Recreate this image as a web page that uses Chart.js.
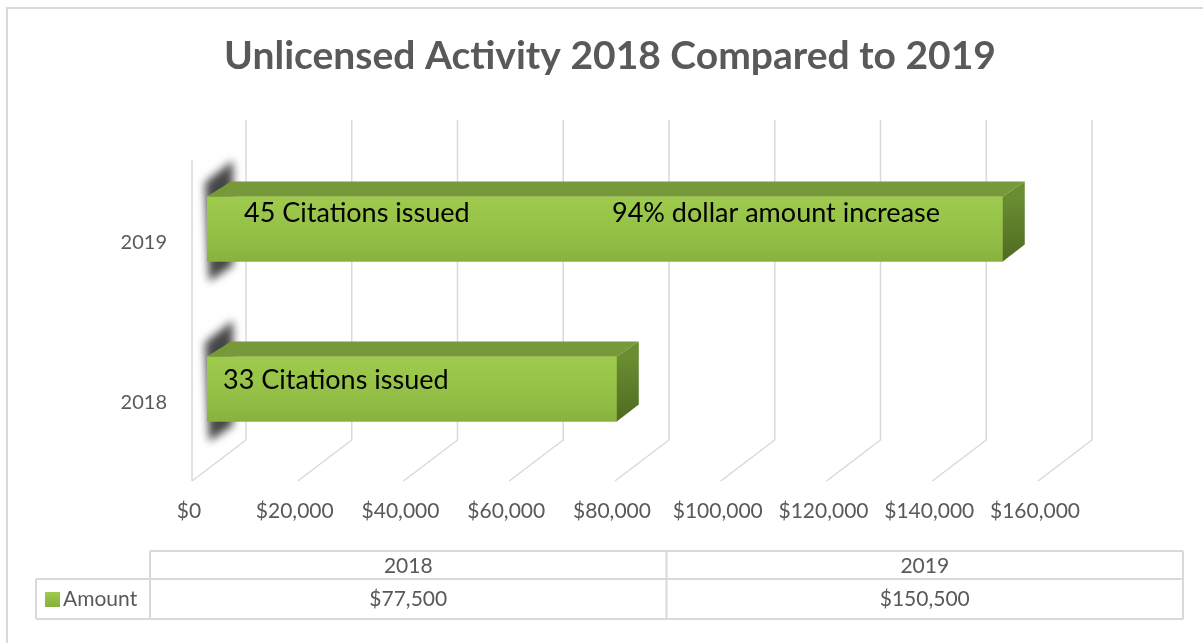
<!DOCTYPE html>
<html>
<head>
<meta charset="utf-8">
<script src="https://cdn.jsdelivr.net/npm/chart.js"></script>
<style>
  html, body { margin: 0; padding: 0; background: #fff; }
  #wrap { position: relative; width: 1203px; height: 643px; overflow: hidden; }
  #frame { position: absolute; left: 6px; top: 7px; width: 1300px; height: 800px; border: 2px solid #d9d9d9; box-sizing: border-box; }
  #chart { position: absolute; left: 0; top: 0; }
</style>
</head>
<body>
<div id="wrap">
  <div id="frame"></div>
  <canvas id="chart" width="1203" height="643"></canvas>
</div>
<script>
// data
const years = ['2018', '2019'];
const amounts = [77500, 150500];
const seriesName = 'Amount';
const xTicks = [0, 20000, 40000, 60000, 80000, 100000, 120000, 140000, 160000];
const barNotes = [
  ['33 Citations issued'],
  ['45 Citations issued', '94% dollar amount increase']
];
const chartTitle = 'Unlicensed Activity 2018 Compared to 2019';

const THEME = {
  text: '#595959',
  grid: '#d9d9d9',
  frontTop: '#9ecb4d',
  frontBottom: '#88b13d',
  topFace: '#77993a',
  sideTop: '#6a8d31',
  sideBottom: '#4f6b23'
};
const FONT = 'Lato, "Open Sans", sans-serif';
const DEPTH = { dx: 22, dy: -15 };

const money = v => '$' + Number(v).toLocaleString('en-US');

// title, drawn by hand so it can sit off the plot centre
const titlePlugin = {
  id: 'bigTitle',
  afterDraw(chart) {
    const { ctx } = chart;
    ctx.save();
    ctx.fillStyle = THEME.text;
    ctx.font = 'bold 39px ' + FONT;
    ctx.textAlign = 'center';
    ctx.textBaseline = 'middle';
    ctx.fillText(chartTitle, 610, 56);
    ctx.restore();
  }
};

// back wall, floor lines, wall shadows
const wallPlugin = {
  id: 'wall',
  beforeDatasetsDraw(chart) {
    const { ctx, chartArea } = chart;
    const x = chart.scales.x;
    ctx.save();
    ctx.strokeStyle = THEME.grid;
    ctx.lineWidth = 1.5;
    xTicks.forEach(v => {
      const px = x.getPixelForValue(v);
      ctx.beginPath();
      ctx.moveTo(px + 39, chartArea.top - 29);
      ctx.lineTo(px + 39, chartArea.bottom - 29);
      ctx.lineTo(px - 15, chartArea.bottom + 12);
      ctx.stroke();
    });
    ctx.beginPath();
    ctx.moveTo(x.left - 15, chartArea.top + 11);
    ctx.lineTo(x.left - 15, chartArea.bottom + 12);
    ctx.stroke();

    // blurred shadow of each bar on the side wall
    const meta = chart.getDatasetMeta(0);
    ctx.filter = 'blur(4px)';
    ctx.fillStyle = 'rgba(50,50,50,0.9)';
    meta.data.forEach(bar => {
      const top = bar.y - bar.height / 2;
      const bottom = bar.y + bar.height / 2;
      const b = bar.base;
      ctx.beginPath();
      ctx.moveTo(b - 2, top - 14);
      ctx.lineTo(b + 26, top - 36);
      ctx.lineTo(b + 26, bottom + 4);
      ctx.lineTo(b + 2, bottom + 20);
      ctx.closePath();
      ctx.fill();
    });
    ctx.restore();
  },
  afterDatasetsDraw(chart) {
    const { ctx } = chart;
    const meta = chart.getDatasetMeta(0);
    ctx.save();
    meta.data.forEach(bar => {
      const top = bar.y - bar.height / 2;
      const bottom = bar.y + bar.height / 2;
      const b = bar.base, e = bar.x;
      // top face
      ctx.fillStyle = THEME.topFace;
      ctx.beginPath();
      ctx.moveTo(b, top);
      ctx.lineTo(b + DEPTH.dx + 2, top + DEPTH.dy);
      ctx.lineTo(e + DEPTH.dx, top + DEPTH.dy);
      ctx.lineTo(e, top);
      ctx.closePath();
      ctx.fill();
      // right face
      const g = ctx.createLinearGradient(0, top, 0, bottom);
      g.addColorStop(0, THEME.sideTop);
      g.addColorStop(1, THEME.sideBottom);
      ctx.fillStyle = g;
      ctx.beginPath();
      ctx.moveTo(e, top);
      ctx.lineTo(e + DEPTH.dx, top + DEPTH.dy);
      ctx.lineTo(e + DEPTH.dx, bottom + DEPTH.dy - 2);
      ctx.lineTo(e, bottom);
      ctx.closePath();
      ctx.fill();
    });

    // notes written on the bars
    const noteX = [[16], [37, 405]];
    const noteY = [24, 17];
    ctx.fillStyle = '#000';
    ctx.font = '27px ' + FONT;
    ctx.textBaseline = 'middle';
    ctx.textAlign = 'left';
    meta.data.forEach((bar, i) => {
      const top = bar.y - bar.height / 2;
      barNotes[i].forEach((txt, j) => {
        ctx.fillText(txt, bar.base + noteX[i][j], top + noteY[i]);
      });
    });
    ctx.restore();
  }
};

// data table under the chart
const tablePlugin = {
  id: 'dataTable',
  afterDraw(chart) {
    const { ctx } = chart;
    const top = 551, mid = 579, bottom = 619;
    const left = 36, first = 150, right = 1183;
    const colW = (right - first) / years.length;
    ctx.save();
    ctx.strokeStyle = THEME.grid;
    ctx.lineWidth = 2;
    ctx.beginPath();
    ctx.moveTo(first, top); ctx.lineTo(right, top);
    ctx.moveTo(left, mid); ctx.lineTo(right, mid);
    ctx.moveTo(left, bottom); ctx.lineTo(right, bottom);
    ctx.moveTo(left, mid); ctx.lineTo(left, bottom);
    for (let i = 0; i <= years.length; i++) {
      const cx = first + i * colW;
      ctx.moveTo(cx, top); ctx.lineTo(cx, bottom);
    }
    ctx.stroke();

    ctx.fillStyle = THEME.text;
    ctx.font = '21px ' + FONT;
    ctx.textBaseline = 'middle';
    ctx.textAlign = 'center';
    years.forEach((y, i) => {
      const cx = first + (i + 0.5) * colW;
      ctx.fillText(y, cx, (top + mid) / 2 + 1);
      ctx.fillText(money(amounts[i]), cx, (mid + bottom) / 2);
    });

    // legend key
    const g = ctx.createLinearGradient(0, 592, 0, 606);
    g.addColorStop(0, THEME.frontTop);
    g.addColorStop(1, THEME.frontBottom);
    ctx.fillStyle = g;
    ctx.fillRect(45, 592, 15, 15);
    ctx.fillStyle = THEME.text;
    ctx.textAlign = 'left';
    ctx.fillText(seriesName, 63, (mid + bottom) / 2);
    ctx.restore();
  }
};

function frontFill(c) {
  const chart = c.chart;
  if (!chart.chartArea || c.dataIndex === undefined) return THEME.frontTop;
  const cy = chart.scales.y.getPixelForValue(c.dataIndex);
  const g = chart.ctx.createLinearGradient(0, cy - 32, 0, cy + 32);
  g.addColorStop(0, THEME.frontTop);
  g.addColorStop(0.75, '#91bc44');
  g.addColorStop(1, THEME.frontBottom);
  return g;
}

new Chart(document.getElementById('chart').getContext('2d'), {
  type: 'bar',
  data: {
    labels: years,
    datasets: [{
      label: seriesName,
      data: amounts,
      backgroundColor: frontFill,
      borderWidth: 0,
      barThickness: 65
    }]
  },
  options: {
    indexAxis: 'y',
    responsive: false,
    animation: false,
    layout: { padding: { left: 0, right: 150, top: 149, bottom: 114 } },
    plugins: {
      legend: { display: false },
      tooltip: { enabled: false },
      title: { display: false }
    },
    scales: {
      x: {
        min: 0,
        max: 160000,
        afterFit: s => { s.height = 60; },
        afterBuildTicks: s => { s.ticks = xTicks.map(v => ({ value: v })); },
        grid: { display: false, drawTicks: false },
        border: { display: false },
        ticks: {
          color: THEME.text,
          font: { family: FONT, size: 21 },
          padding: 30,
          labelOffset: -18,
          maxRotation: 0,
          autoSkip: false,
          callback: v => money(v)
        }
      },
      y: {
        reverse: true,
        afterFit: s => { s.width = 207; },
        grid: { display: false, drawTicks: false },
        border: { display: false },
        ticks: {
          color: THEME.text,
          font: { family: FONT, size: 20 },
          padding: 40,
          labelOffset: 14
        }
      }
    }
  },
  plugins: [wallPlugin, tablePlugin, titlePlugin]
});
</script>
</body>
</html>
